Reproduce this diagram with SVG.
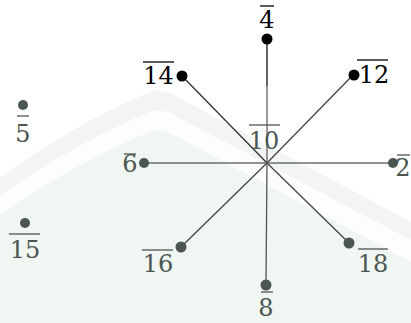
<svg xmlns="http://www.w3.org/2000/svg" width="411" height="323" viewBox="0 0 411 323">
<style>
.t{font-family:"DejaVu Serif","Liberation Serif",serif;font-size:24px;text-anchor:middle}
.dk{fill:#000}
.gr{fill:#4b5551}
.ol{stroke-width:1.3}
.ok{stroke:#000}
.og{stroke:#4b5551}
.e{stroke-width:1.3;fill:none}
</style>
<rect width="411" height="323" fill="#fff"/>
<path d="M0,178 Q80,120 150,92 Q160,88 172,94 L411,222 L411,323 L0,323 Z" fill="#f3f5f4"/>
<path d="M0,195 Q80,140 150,112 Q160,108 172,114 L411,240 L411,323 L0,323 Z" fill="#fcfdfc"/>
<path d="M0,215 Q80,160 150,132 Q160,128 172,134 L411,262 L411,323 L0,323 Z" fill="#f0f6f2"/>
<g id="edges">
<line class="e" x1="267" y1="39" x2="267" y2="86" stroke="#111"/>
<line class="e" x1="267" y1="86" x2="267" y2="163" stroke="#666"/>
<line class="e" x1="182" y1="76" x2="267" y2="163" stroke="#333"/>
<line class="e" x1="353" y1="75" x2="267" y2="163" stroke="#444"/>
<line class="e" x1="144" y1="163" x2="393" y2="163" stroke="#6a716e"/>
<line class="e" x1="181" y1="247" x2="267" y2="163" stroke="#444"/>
<line class="e" x1="349" y1="243" x2="267" y2="163" stroke="#444"/>
<line class="e" x1="266" y1="285" x2="267" y2="163" stroke="#555"/>
</g>
<g id="n4"><circle cx="267" cy="39" r="5.5" class="dk"/><line x1="260" y1="6" x2="274" y2="6" class="ol ok"/><text x="267" y="28" class="t dk">4</text></g>
<g id="n14"><circle cx="182" cy="76" r="5.5" class="dk"/><line x1="143" y1="62" x2="174" y2="62" class="ol ok"/><text x="158.5" y="84" class="t dk">14</text></g>
<g id="n12"><circle cx="354" cy="75" r="5.5" class="dk"/><line x1="357" y1="60" x2="388" y2="60" class="ol ok"/><text x="374" y="83" class="t dk">12</text></g>
<g id="n5"><circle cx="23" cy="105" r="5" class="gr"/><line x1="17" y1="116" x2="29" y2="116" class="ol og"/><text x="23" y="142" class="t gr">5</text></g>
<g id="n15"><circle cx="25" cy="223" r="5" class="gr"/><line x1="9" y1="234" x2="40" y2="234" class="ol og"/><text x="25" y="258" class="t gr">15</text></g>
<g id="n6"><circle cx="144" cy="163" r="5" class="gr"/><line x1="124" y1="154" x2="136" y2="154" class="ol og"/><text x="130" y="172" class="t gr">6</text></g>
<g id="n2"><circle cx="393" cy="163" r="5" class="gr"/><line x1="397" y1="155" x2="410" y2="155" class="ol og"/><text x="403" y="176" class="t gr">2</text></g>
<g id="n10"><line x1="249" y1="125" x2="280" y2="125" class="ol og"/><text x="264" y="149" class="t gr">10</text></g>
<g id="n16"><circle cx="181" cy="247" r="5.5" class="gr"/><line x1="142" y1="250" x2="173" y2="250" class="ol og"/><text x="158" y="272" class="t gr">16</text></g>
<g id="n18"><circle cx="349" cy="243" r="5.5" class="gr"/><line x1="358" y1="249" x2="388" y2="249" class="ol og"/><text x="373" y="272" class="t gr">18</text></g>
<g id="n8"><circle cx="266" cy="285" r="5.5" class="gr"/><line x1="261" y1="292" x2="273" y2="292" class="ol og"/><text x="266" y="316" class="t gr">8</text></g>
</svg>
